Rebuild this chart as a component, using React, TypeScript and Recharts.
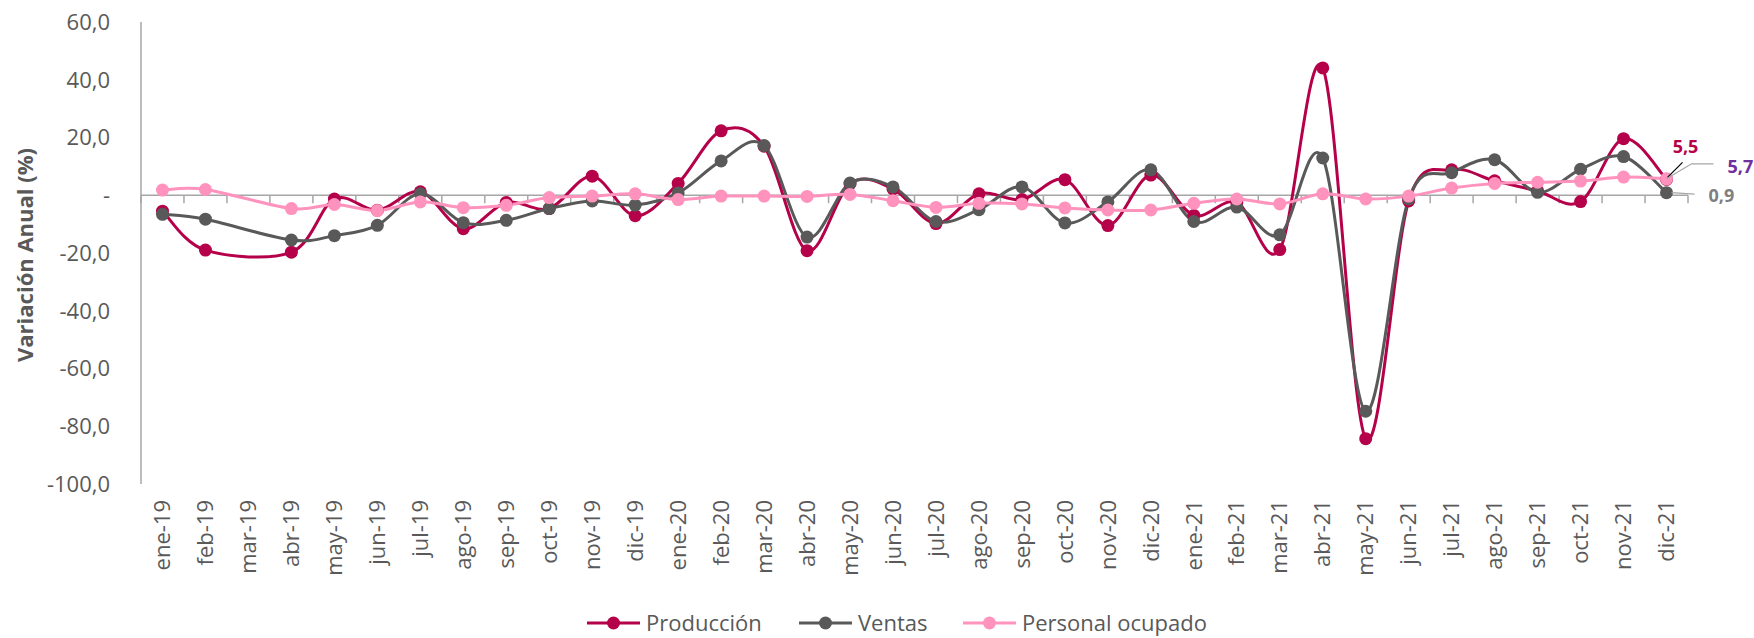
import { Legend, Line, LineChart, ReferenceLine, XAxis, YAxis } from "recharts"

const months = [
  "ene-19", "feb-19", "mar-19", "abr-19", "may-19", "jun-19", "jul-19", "ago-19", "sep-19", "oct-19", "nov-19", "dic-19",
  "ene-20", "feb-20", "mar-20", "abr-20", "may-20", "jun-20", "jul-20", "ago-20", "sep-20", "oct-20", "nov-20", "dic-20",
  "ene-21", "feb-21", "mar-21", "abr-21", "may-21", "jun-21", "jul-21", "ago-21", "sep-21", "oct-21", "nov-21", "dic-21",
]

const produccion = [
  -5.5, -19.0, null, -19.7, -1.3, -5.2, 1.2, -11.6, -2.5, -4.6, 6.6, -7.1,
  4.1, 22.3, 17.0, -19.2, 4.0, 2.2, -9.8, 0.5, -1.5, 5.4, -10.5, 7.0,
  -7.0, -2.5, -18.8, 44.1, -84.3, -2.0, 8.8, 5.0, 1.5, -2.2, 19.6, 5.5,
]

const ventas = [
  -6.6, -8.3, null, -15.5, -14.0, -10.4, 0.5, -9.5, -8.7, -4.6, -2.0, -3.4,
  0.8, 11.9, 17.2, -14.5, 4.2, 2.9, -9.1, -5.0, 2.9, -9.6, -2.3, 8.8,
  -9.1, -4.1, -13.7, 12.9, -74.8, -1.3, 7.8, 12.3, 1.0, 9.0, 13.4, 0.9,
]

const personal = [
  1.8, 2.0, null, -4.6, -3.2, -5.3, -2.3, -4.3, -3.5, -0.8, -0.3, 0.5,
  -1.5, -0.3, -0.3, -0.4, 0.3, -1.9, -4.2, -2.8, -3.0, -4.4, -5.1, -5.1,
  -2.8, -1.3, -3.0, 0.5, -1.3, -0.3, 2.5, 4.1, 4.5, 4.9, 6.3, 5.7,
]

const yTicks = [-100, -80, -60, -40, -20, 0, 20, 40, 60]

const data = months.map((m, i) => ({
  mes: m,
  produccion: produccion[i],
  ventas: ventas[i],
  personal: personal[i],
}))

const FONT = "'Open Sans', sans-serif"
const GRAY = "#595959"
const AXIS = "#A6A6A6"
const C_PROD = "#B5004A"
const C_VENT = "#595959"
const C_PERS = "#FF93BE"
const LAST = months.length - 1

const fmt = (v: number) => (v === 0 ? "-" : v.toFixed(1).replace(".", ","))

// excel-ish smoothed line (catmull-rom as bezier)
const excelSmooth = (context: any) => {
  let pts: number[][] = []
  return {
    areaStart() {},
    areaEnd() {},
    lineStart() {
      pts = []
    },
    point(x: number, y: number) {
      pts.push([+x, +y])
    },
    lineEnd() {
      const n = pts.length
      if (!n) return
      context.moveTo(pts[0][0], pts[0][1])
      for (let i = 0; i < n - 1; i++) {
        const p0 = pts[i - 1] || pts[i]
        const p1 = pts[i]
        const p2 = pts[i + 1]
        const p3 = pts[i + 2] || p2
        context.bezierCurveTo(
          p1[0] + (p2[0] - p0[0]) / 6,
          p1[1] + (p2[1] - p0[1]) / 6,
          p2[0] - (p3[0] - p1[0]) / 6,
          p2[1] - (p3[1] - p1[1]) / 6,
          p2[0],
          p2[1],
        )
      }
    },
  }
}

const XTick = ({ x, y, payload }: any) => (
  <text
    transform={`translate(${x},${y + 8}) rotate(-90)`}
    textAnchor="end"
    dy="0.35em"
    fill={GRAY}
    fontSize={22}
    fontFamily={FONT}
  >
    {payload.value}
  </text>
)

// zero line with small category ticks hanging under it
const ZeroLine = (props: any) => {
  const { x1, y1, x2, y2 } = props
  const n = months.length
  const step = (x2 - x1) / n
  return (
    <g>
      <line x1={x1} y1={y1} x2={x2} y2={y2} stroke={AXIS} strokeWidth={1.5} />
      {Array.from({ length: n + 1 }, (_, i) => (
        <line key={i} x1={x1 + i * step} x2={x1 + i * step} y1={y1} y2={y1 + 8} stroke={AXIS} strokeWidth={1.5} />
      ))}
    </g>
  )
}

const YTitle = ({ viewBox }: any) => {
  const cy = viewBox.y + viewBox.height / 2
  return (
    <text
      transform={`translate(25,${cy + 2}) rotate(-90)`}
      textAnchor="middle"
      dy="0.35em"
      fill={GRAY}
      fontSize={22}
      fontWeight="bold"
      fontFamily={FONT}
    >
      Variación Anual (%)
    </text>
  )
}

const prodLabel = (p: any) => {
  if (p.index !== LAST) return null
  const { x, y, value } = p
  return (
    <g>
      <line x1={x + 1} y1={y - 2} x2={x + 16} y2={y - 17} stroke="#000" strokeWidth={1.2} />
      <text x={x + 19} y={y - 26} textAnchor="middle" fill={C_PROD} fontSize={18} fontWeight="bold" fontFamily={FONT}>
        {fmt(value)}
      </text>
    </g>
  )
}

const ventLabel = (p: any) => {
  if (p.index !== LAST) return null
  const { x, y, value } = p
  return (
    <g>
      <line x1={x + 5} y1={y} x2={x + 28} y2={y + 1.5} stroke={AXIS} strokeWidth={1.2} />
      <text x={x + 42} y={y + 9} fill="#7F7F7F" fontSize={18} fontWeight="bold" fontFamily={FONT}>
        {fmt(value)}
      </text>
    </g>
  )
}

const persLabel = (p: any) => {
  if (p.index !== LAST) return null
  const { x, y, value } = p
  return (
    <g>
      <polyline
        points={`${x},${y} ${x + 25},${y - 15} ${x + 47},${y - 15}`}
        fill="none"
        stroke={AXIS}
        strokeWidth={1.2}
      />
      <text x={x + 61} y={y - 6} fill="#7030A0" fontSize={18} fontWeight="bold" fontFamily={FONT}>
        {fmt(value)}
      </text>
    </g>
  )
}

const legendItems = [
  { name: "Producción", color: C_PROD, x: 0 },
  { name: "Ventas", color: C_VENT, x: 212 },
  { name: "Personal ocupado", color: C_PERS, x: 376 },
]

const LegendBox = () => (
  <svg width={640} height={40}>
    {legendItems.map((it) => (
      <g key={it.name}>
        <line x1={it.x} x2={it.x + 53} y1={25} y2={25} stroke={it.color} strokeWidth={3} />
        <circle cx={it.x + 26.5} cy={25} r={6.5} fill={it.color} />
        <text x={it.x + 59} y={25} dy="0.35em" fill={GRAY} fontSize={22} fontFamily={FONT}>
          {it.name}
        </text>
      </g>
    ))}
  </svg>
)

export default function App() {
  return (
    <div style={{ width: 1754, height: 638, background: "#fff" }}>
      <style>{`body{margin:0}`}</style>
      <LineChart width={1754} height={638} data={data} margin={{ top: 22, right: 66, left: 0, bottom: 0 }}>
        <XAxis
          dataKey="mes"
          scale="band"
          height={114}
          axisLine={false}
          tickLine={false}
          interval={0}
          tick={<XTick />}
        />
        <YAxis
          width={141}
          domain={[-100, 60]}
          ticks={yTicks}
          interval={0}
          tickFormatter={fmt}
          axisLine={{ stroke: AXIS, strokeWidth: 1.5 }}
          tickLine={false}
          tickMargin={25}
          tick={{ fill: GRAY, fontSize: 22, fontFamily: FONT }}
          label={<YTitle />}
        />
        <ReferenceLine y={0} shape={<ZeroLine />} />
        <Legend
          verticalAlign="bottom"
          content={<LegendBox />}
          wrapperStyle={{ left: 587, width: 640, height: 40 }}
        />
        <Line
          name="Producción"
          dataKey="produccion"
          type={excelSmooth as any}
          stroke={C_PROD}
          strokeWidth={3}
          dot={{ r: 6.5, fill: C_PROD, stroke: C_PROD, strokeWidth: 0 }}
          connectNulls
          label={prodLabel}
          isAnimationActive={false}
        />
        <Line
          name="Ventas"
          dataKey="ventas"
          type={excelSmooth as any}
          stroke={C_VENT}
          strokeWidth={3}
          dot={{ r: 6.5, fill: C_VENT, stroke: C_VENT, strokeWidth: 0 }}
          connectNulls
          label={ventLabel}
          isAnimationActive={false}
        />
        <Line
          name="Personal ocupado"
          dataKey="personal"
          type={excelSmooth as any}
          stroke={C_PERS}
          strokeWidth={3}
          dot={{ r: 6.5, fill: C_PERS, stroke: C_PERS, strokeWidth: 0 }}
          connectNulls
          label={persLabel}
          isAnimationActive={false}
        />
      </LineChart>
    </div>
  )
}
